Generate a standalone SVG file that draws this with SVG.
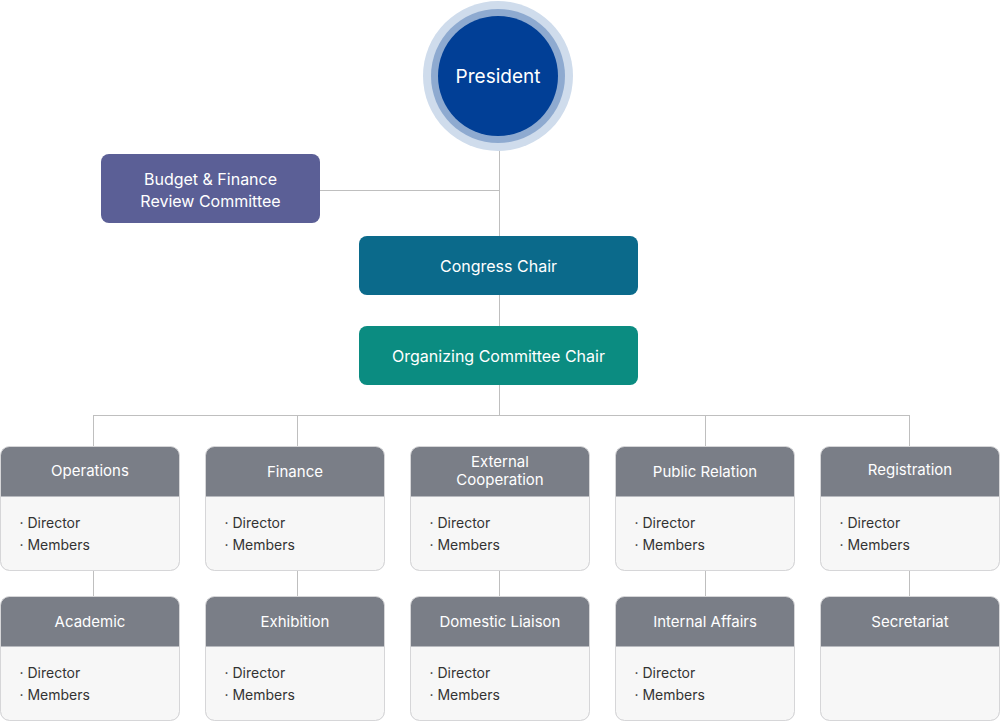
<svg xmlns="http://www.w3.org/2000/svg" width="1000" height="721" viewBox="0 0 1000 721">
<style>
text{font-family:Inter,"Noto Sans","Liberation Sans",sans-serif;}
.w{fill:#fff;font-size:16px;text-anchor:middle;dominant-baseline:central;}
.hd{fill:#fff;font-size:15px;text-anchor:middle;dominant-baseline:central;}
.b{fill:#333;font-size:14px;dominant-baseline:central;}
.hr{fill:#7a7e87;}
.bd{fill:#f7f7f7;stroke:#d6d6d8;stroke-width:1;}
.ln{stroke:#bfbfbf;stroke-width:1;fill:none;}
</style>
<defs>
<clipPath id="cl"><rect x="0" y="0" width="179" height="124" rx="9"/></clipPath>
</defs>
<rect width="1000" height="721" fill="#fff"/>
<g id="connectors">
<path class="ln" d="M499.5 136V415M320 190.5H499.5M93.5 415.5H909.5M93.5 415V446M297.5 415V446M705.5 415V446M909.5 415V446M93.5 570V596M297.5 570V596M499.5 570V596M705.5 570V596M909.5 570V596"/>
</g>
<g id="president">
<circle cx="498" cy="76" r="75" fill="#cfdcec"/>
<circle cx="498" cy="76" r="67" fill="#8eaad0"/>
<circle cx="498" cy="76" r="60" fill="#013f96"/>
<text class="w" x="498" y="76" style="font-size:19px">President</text>
</g>
<g id="budget">
<rect x="101" y="154" width="219" height="69" rx="8" fill="#5b5f96"/>
<text class="w" x="210.5" y="179">Budget &amp; Finance</text>
<text class="w" x="210.5" y="201">Review Committee</text>
</g>
<g id="congress">
<rect x="359" y="236" width="279" height="59" rx="8" fill="#0b6a8b"/>
<text class="w" x="498.5" y="266">Congress Chair</text>
</g>
<g id="organizing">
<rect x="359" y="326" width="279" height="59" rx="8" fill="#0b8c81"/>
<text class="w" x="498.5" y="356">Organizing Committee Chair</text>
</g>
<g id="operations" transform="translate(0.5,446.5)">
<g clip-path="url(#cl)"><rect class="bd" x="0" y="0" width="179" height="124" rx="9"/><rect class="hr" x="0" y="0" width="179" height="50"/></g>
<rect x="0" y="0" width="179" height="124" rx="9" fill="none" stroke="#d6d6d8"/>
<text class="hd" x="89.5" y="24">Operations</text>
<text class="b" x="19" y="76">· Director</text>
<text class="b" x="19" y="98">· Members</text>
</g>
<g id="finance" transform="translate(205.5,446.5)">
<g clip-path="url(#cl)"><rect class="bd" x="0" y="0" width="179" height="124" rx="9"/><rect class="hr" x="0" y="0" width="179" height="50"/></g>
<rect x="0" y="0" width="179" height="124" rx="9" fill="none" stroke="#d6d6d8"/>
<text class="hd" x="89.5" y="25">Finance</text>
<text class="b" x="19" y="76">· Director</text>
<text class="b" x="19" y="98">· Members</text>
</g>
<g id="external" transform="translate(410.5,446.5)">
<g clip-path="url(#cl)"><rect class="bd" x="0" y="0" width="179" height="124" rx="9"/><rect class="hr" x="0" y="0" width="179" height="50"/></g>
<rect x="0" y="0" width="179" height="124" rx="9" fill="none" stroke="#d6d6d8"/>
<text class="hd" x="89.5" y="15">External</text>
<text class="hd" x="89.5" y="33">Cooperation</text>
<text class="b" x="19" y="76">· Director</text>
<text class="b" x="19" y="98">· Members</text>
</g>
<g id="public" transform="translate(615.5,446.5)">
<g clip-path="url(#cl)"><rect class="bd" x="0" y="0" width="179" height="124" rx="9"/><rect class="hr" x="0" y="0" width="179" height="50"/></g>
<rect x="0" y="0" width="179" height="124" rx="9" fill="none" stroke="#d6d6d8"/>
<text class="hd" x="89.5" y="25">Public Relation</text>
<text class="b" x="19" y="76">· Director</text>
<text class="b" x="19" y="98">· Members</text>
</g>
<g id="registration" transform="translate(820.5,446.5)">
<g clip-path="url(#cl)"><rect class="bd" x="0" y="0" width="179" height="124" rx="9"/><rect class="hr" x="0" y="0" width="179" height="50"/></g>
<rect x="0" y="0" width="179" height="124" rx="9" fill="none" stroke="#d6d6d8"/>
<text class="hd" x="89.5" y="23">Registration</text>
<text class="b" x="19" y="76">· Director</text>
<text class="b" x="19" y="98">· Members</text>
</g>
<g id="academic" transform="translate(0.5,596.5)">
<g clip-path="url(#cl)"><rect class="bd" x="0" y="0" width="179" height="124" rx="9"/><rect class="hr" x="0" y="0" width="179" height="50"/></g>
<rect x="0" y="0" width="179" height="124" rx="9" fill="none" stroke="#d6d6d8"/>
<text class="hd" x="89.5" y="25">Academic</text>
<text class="b" x="19" y="76">· Director</text>
<text class="b" x="19" y="98">· Members</text>
</g>
<g id="exhibition" transform="translate(205.5,596.5)">
<g clip-path="url(#cl)"><rect class="bd" x="0" y="0" width="179" height="124" rx="9"/><rect class="hr" x="0" y="0" width="179" height="50"/></g>
<rect x="0" y="0" width="179" height="124" rx="9" fill="none" stroke="#d6d6d8"/>
<text class="hd" x="89.5" y="25">Exhibition</text>
<text class="b" x="19" y="76">· Director</text>
<text class="b" x="19" y="98">· Members</text>
</g>
<g id="domestic" transform="translate(410.5,596.5)">
<g clip-path="url(#cl)"><rect class="bd" x="0" y="0" width="179" height="124" rx="9"/><rect class="hr" x="0" y="0" width="179" height="50"/></g>
<rect x="0" y="0" width="179" height="124" rx="9" fill="none" stroke="#d6d6d8"/>
<text class="hd" x="89.5" y="25">Domestic Liaison</text>
<text class="b" x="19" y="76">· Director</text>
<text class="b" x="19" y="98">· Members</text>
</g>
<g id="internal" transform="translate(615.5,596.5)">
<g clip-path="url(#cl)"><rect class="bd" x="0" y="0" width="179" height="124" rx="9"/><rect class="hr" x="0" y="0" width="179" height="50"/></g>
<rect x="0" y="0" width="179" height="124" rx="9" fill="none" stroke="#d6d6d8"/>
<text class="hd" x="89.5" y="25">Internal Affairs</text>
<text class="b" x="19" y="76">· Director</text>
<text class="b" x="19" y="98">· Members</text>
</g>
<g id="secretariat" transform="translate(820.5,596.5)">
<g clip-path="url(#cl)"><rect class="bd" x="0" y="0" width="179" height="124" rx="9"/><rect class="hr" x="0" y="0" width="179" height="50"/></g>
<rect x="0" y="0" width="179" height="124" rx="9" fill="none" stroke="#d6d6d8"/>
<text class="hd" x="89.5" y="25">Secretariat</text>
</g>
</svg>
